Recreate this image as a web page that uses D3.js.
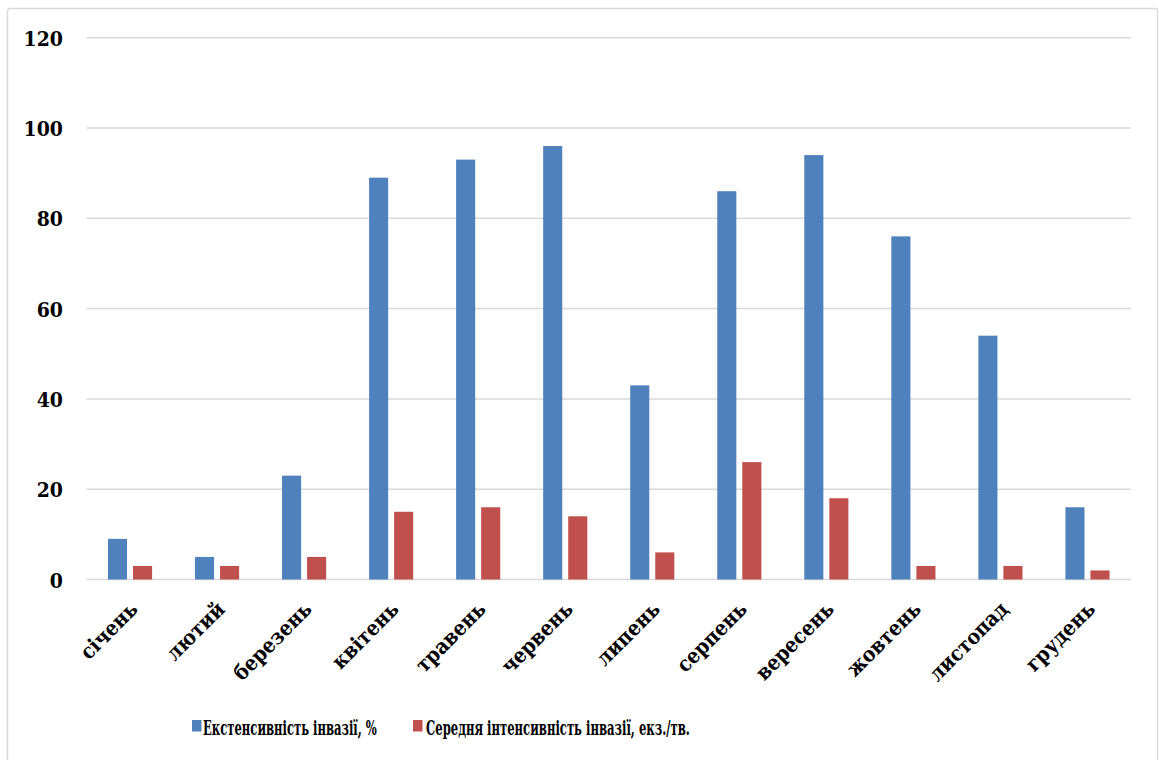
<!DOCTYPE html>
<html>
<head>
<meta charset="utf-8">
<script src="https://cdn.jsdelivr.net/npm/d3@7"></script>
<style>
  html, body { margin: 0; padding: 0; background: #fff; }
  svg { display: block; }
  text { font-family: "DejaVu Serif Condensed", "DejaVu Serif", serif; font-stretch: condensed; font-weight: bold; fill: #000; }
</style>
</head>
<body>
<svg id="chart" width="1159" height="760"></svg>
<script>
// Monthly invasion data
const months = ["січень", "лютий", "березень", "квітень", "травень", "червень",
                "липень", "серпень", "вересень", "жовтень", "листопад", "грудень"];
const extensity = [9, 5, 23, 89, 93, 96, 43, 86, 94, 76, 54, 16];
const intensity = [3, 3, 5, 15, 16, 14, 6, 26, 18, 3, 3, 2];
const seriesNames = ["Екстенсивність інвазії, %", "Середня інтенсивність інвазії, екз./тв."];
const seriesColors = ["#4F81BD", "#C0504D"];
const yTicks = [0, 20, 40, 60, 80, 100, 120];

const FONT = '"DejaVu Serif Condensed", "DejaVu Serif", serif';
const svg = d3.select("#chart");

// Outer chart frame
svg.append("rect")
  .attr("x", 7.5).attr("y", 8.5)
  .attr("width", 1150).attr("height", 780)
  .attr("rx", 3)
  .attr("fill", "#fff")
  .attr("stroke", "#D9D9D9")
  .attr("stroke-width", 1.5);

const plot = { left: 86.5, right: 1131, top: 37.7, bottom: 579.5 };

const x = d3.scaleBand().domain(months).range([plot.left, plot.right]);
const x1 = d3.scaleBand().domain([0, 1]).range([0, x.bandwidth()])
  .paddingInner(0.238).paddingOuter(0.857);
const y = d3.scaleLinear().domain([0, 120]).range([plot.bottom, plot.top]);

// Horizontal gridlines
svg.append("g")
  .selectAll("line")
  .data(yTicks)
  .join("line")
  .attr("x1", plot.left).attr("x2", plot.right)
  .attr("y1", d => y(d)).attr("y2", d => y(d))
  .attr("stroke", "#D9D9D9")
  .attr("stroke-width", 1.5);

// Y axis labels
const yAxis = d3.axisLeft(y).tickValues(yTicks).tickSize(0).tickPadding(0);
svg.append("g")
  .attr("transform", `translate(63,0)`)
  .call(yAxis)
  .call(g => g.select(".domain").remove())
  .selectAll("text")
  .attr("font-family", FONT)
  .attr("font-weight", "bold")
  .attr("font-size", 21)
  .attr("fill", "#000")
  .attr("dy", "0.36em");

// Bars
const rows = months.map((m, i) => ({ m, vals: [extensity[i], intensity[i]] }));
const groups = svg.append("g")
  .selectAll("g")
  .data(rows)
  .join("g")
  .attr("transform", d => `translate(${x(d.m)},0)`);

groups.selectAll("rect")
  .data(d => d.vals.map((v, s) => ({ v, s })))
  .join("rect")
  .attr("x", d => x1(d.s))
  .attr("width", x1.bandwidth())
  .attr("y", d => y(d.v))
  .attr("height", d => y(0) - y(d.v))
  .attr("fill", d => seriesColors[d.s]);

// Month labels, rotated
const xAxis = d3.axisBottom(x).tickSize(0).tickPadding(0);
svg.append("g")
  .attr("transform", `translate(0,${plot.bottom})`)
  .call(xAxis)
  .call(g => g.select(".domain").remove())
  .selectAll("text")
  .attr("font-family", FONT)
  .attr("font-weight", "bold")
  .attr("font-size", 21)
  .attr("fill", "#000")
  .attr("text-anchor", "end")
  .attr("dy", null)
  .attr("y", 0)
  .attr("transform", "translate(9,31) rotate(-45)");

// Legend: squeeze each label horizontally to its slot width
const legend = svg.append("g");
const legendItems = [
  { sx: 192, tx: 203, w: 174 },
  { sx: 413, tx: 426, w: 264 }
];
legendItems.forEach((it, i) => {
  legend.append("rect")
    .attr("x", it.sx).attr("y", 720)
    .attr("width", 9.5).attr("height", 11.5)
    .attr("fill", seriesColors[i]);
  const t = legend.append("text")
    .attr("x", 0).attr("y", 0)
    .attr("font-family", FONT)
    .attr("font-size", 20)
    .text(seriesNames[i]);
  const natural = t.node().getComputedTextLength();
  t.attr("transform", `translate(${it.tx},734.5) scale(${it.w / natural},1)`);
});
</script>
</body>
</html>
